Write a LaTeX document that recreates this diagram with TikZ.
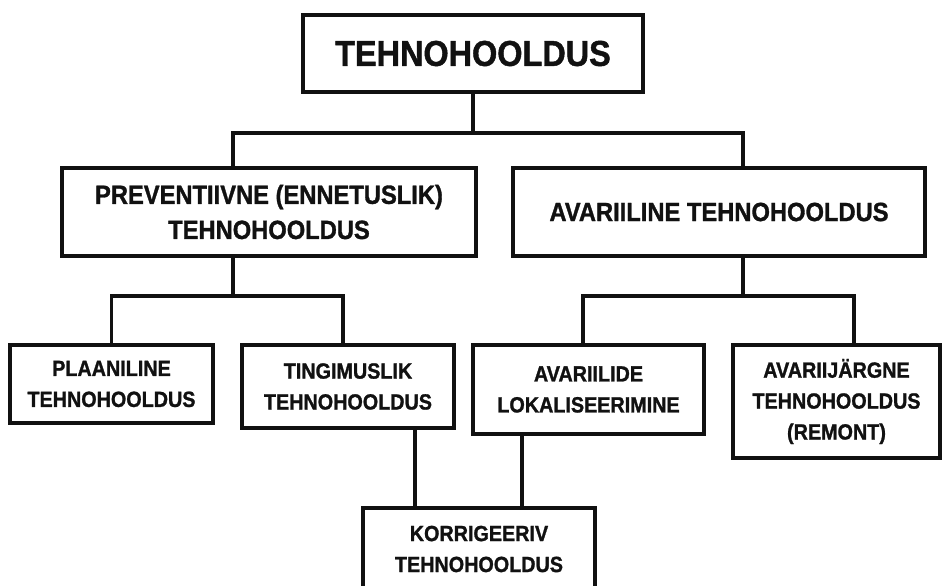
\documentclass[tikz,border=0pt]{standalone}
\usepackage{fontspec}
\setsansfont{Liberation Sans}[FakeStretch=0.9, FakeBold=1.2]
\usetikzlibrary{calc,positioning,shadows}
\definecolor{think}{HTML}{111111}
\definecolor{thshade}{HTML}{6E6E6E}
\tikzset{
  th text/.style={font=\sffamily\bfseries, text=think},
  th box/.style={draw=think, line width=2pt, fill=white, inner sep=0pt,
    align=center, font=\sffamily\bfseries,
    drop shadow={shadow xshift=0.3mm, shadow yshift=-0.35mm, fill=thshade, opacity=1}},
  th title/.style={th box, font=\sffamily\bfseries\fontsize{20.5}{24}\selectfont},
  th main/.style={th box, font=\sffamily\bfseries\fontsize{15}{20}\selectfont},
  th sub/.style={th box, font=\sffamily\bfseries\fontsize{12.5}{17.6}\selectfont},
  th link/.style={draw=think, line width=2pt, line cap=rect}
}
\begin{document}
\begin{tikzpicture}[th text, x=0.02cm, y=-0.02cm]
  \useasboundingbox[fill=white] (0,0) rectangle (950,585);
  \clip (0,0) rectangle (950,585);
  % boxes, placed at pixel positions of the scheme
  \node[th title, minimum width=68mm, minimum height=15.4mm] (top) at (473,53.5) {TEHNOHOOLDUS};
  \node[th main, minimum width=82.8mm, minimum height=17.6mm] (pre) at (269,212)
    {PREVENTIIVNE (ENNETUSLIK)\\TEHNOHOOLDUS};
  \node[th main, minimum width=82.4mm, minimum height=17.6mm] (ava) at (719,212)
    {AVARIILINE TEHNOHOOLDUS};
  \node[th sub, minimum width=40.6mm, minimum height=15.6mm] (plan) at (111.5,384)
    {PLAANILINE\\TEHNOHOOLDUS};
  \node[th sub, minimum width=42.4mm, minimum height=16.6mm] (ting) at (348,386.5)
    {TINGIMUSLIK\\TEHNOHOOLDUS};
  \node[th sub, minimum width=46.2mm, minimum height=17.8mm] (lok) at (588.5,389.5)
    {AVARIILIDE\\LOKALISEERIMINE};
  \node[th sub, minimum width=41.4mm, minimum height=22.6mm] (rem) at (836.5,401.5)
    {AVARIIJÄRGNE\\TEHNOHOOLDUS\\(REMONT)};
  \node[th sub, minimum width=46.4mm, minimum height=16.4mm] (kor) at (479,549)
    {KORRIGEERIV\\TEHNOHOOLDUS};
  % connectors
  \draw[th link] (top.south) -- ++(0,39) coordinate (bus1);
  \draw[th link] (bus1) -| ([xshift=-7.2mm]pre.north);
  \draw[th link] (bus1) -| ([xshift=4.8mm]ava.north);
  \draw[th link] ([xshift=-7.2mm]pre.south) -- ++(0,38) coordinate (bus2);
  \draw[th link] (bus2) -| (plan.north);
  \draw[th link] (bus2) -| ([xshift=-1mm]ting.north);
  \draw[th link] ([xshift=4.8mm]ava.south) -- ++(0,38) coordinate (bus3);
  \draw[th link] (bus3) -| ([xshift=-1.1mm]lok.north);
  \draw[th link] (bus3) -| ([xshift=3.5mm]rem.north);
  \draw[th link] ([xshift=13.4mm]ting.south) -- ([xshift=13.4mm]ting.south |- kor.north);
  \draw[th link] ([xshift=-13.3mm]lok.south) -- ([xshift=-13.3mm]lok.south |- kor.north);
\end{tikzpicture}
\end{document}
